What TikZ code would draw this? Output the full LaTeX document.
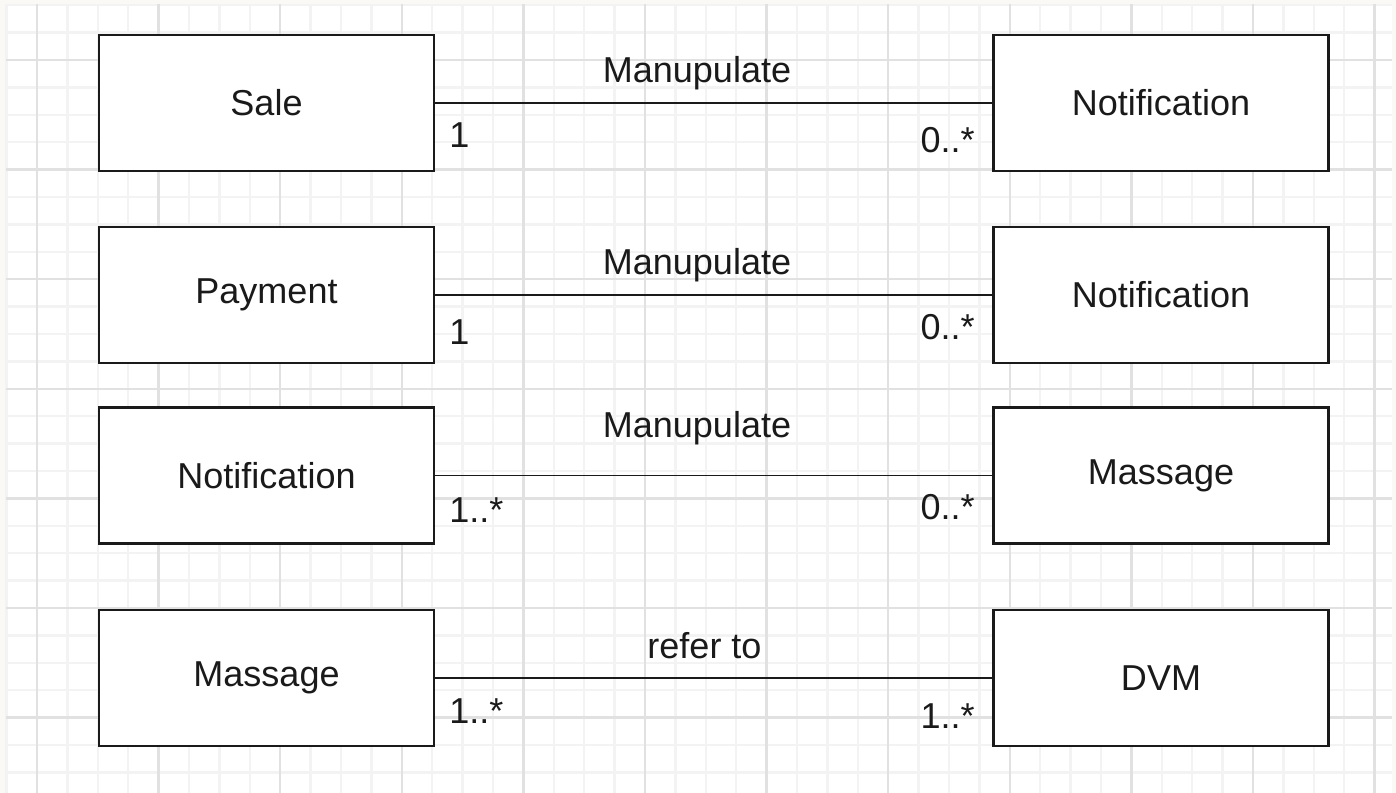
\documentclass[tikz,border=0pt]{standalone}
\usepackage{fontspec}
\setmainfont{Liberation Sans}
\usetikzlibrary{positioning}

\definecolor{paper}{HTML}{FBF9F5}
\definecolor{gridminor}{HTML}{F3F3F3}
\definecolor{gridmajor}{HTML}{E1E1E1}
\definecolor{ink}{HTML}{1A1A1A}

\begin{document}
\begin{tikzpicture}[x=0.02cm, y=-0.02cm,
  every node/.style={font=\fontsize{20.5}{24}\selectfont, text=ink},
  classbox/.style={draw=ink, fill=white, line width=1.4pt, minimum width=6.7cm, minimum height=2.72cm, inner sep=0pt},
  assoc/.style={draw=ink, line width=1.1pt},
  lbl/.style={inner sep=0pt, anchor=base},
  multl/.style={inner sep=0pt, anchor=base west},
  multr/.style={inner sep=0pt, anchor=base east}]
\useasboundingbox (0,0) rectangle (1396,793);
\fill[paper] (0,0) rectangle (1396,793);
\fill[white] (6,4) rectangle (1392,793);

% grid
\foreach \i in {0,...,45}
  \draw[gridminor, line width=1.3pt] ({6.6+30.4*\i},4) -- ({6.6+30.4*\i},793);
\foreach \j in {0,...,28}
  \draw[gridminor, line width=1.3pt] (6,{5.2+27.4*\j}) -- (1392,{5.2+27.4*\j});
\foreach \i in {0,...,11}
  \draw[gridmajor, line width=1.3pt] ({37+121.6*\i},4) -- ({37+121.6*\i},793);
\foreach \j in {0,...,6}
  \draw[gridmajor, line width=1.3pt] (6,{60+109.6*\j}) -- (1392,{60+109.6*\j});

% classes
\node[classbox] (sale)     at (266.5,103) {Sale};
\node[classbox] (notifA)   at (1161,103)  {Notification};
\node[classbox] (payment)  at (266.5,295) {Payment};
\node[classbox] (notifB)   at (1161,295)  {Notification};
\node[classbox] (notifC)   at (266.5,475.5) {Notification};
\node[classbox] (massageA) at (1161,475.5)  {Massage};
\node[classbox] (massageB) at (266.5,678) {Massage};
\node[classbox] (dvm)      at (1161,678)  {DVM};

% associations
\draw[assoc] (sale) -- (notifA);
\draw[assoc] (payment) -- (notifB);
\draw[assoc] (notifC) -- (massageA);
\draw[assoc] (massageB) -- (dvm);

\node[lbl] (manA) at (697,83)  {Manupulate};
\node[lbl] (manB) at (697,275) {Manupulate};
\node[lbl] (manC) at (697,438) {Manupulate};
\node[lbl] (refer) at (704.5,658) {refer to};

\node[multl] (mA1) at (449,148) {1};
\node[multr] (mA2) at (975,153) {0..*};
\node[multl] (mB1) at (449,345) {1};
\node[multr] (mB2) at (975,340) {0..*};
\node[multl] (mC1) at (449,522) {1..*};
\node[multr] (mC2) at (975,520) {0..*};
\node[multl] (mD1) at (449,723) {1..*};
\node[multr] (mD2) at (975,728) {1..*};
\end{tikzpicture}
\end{document}
